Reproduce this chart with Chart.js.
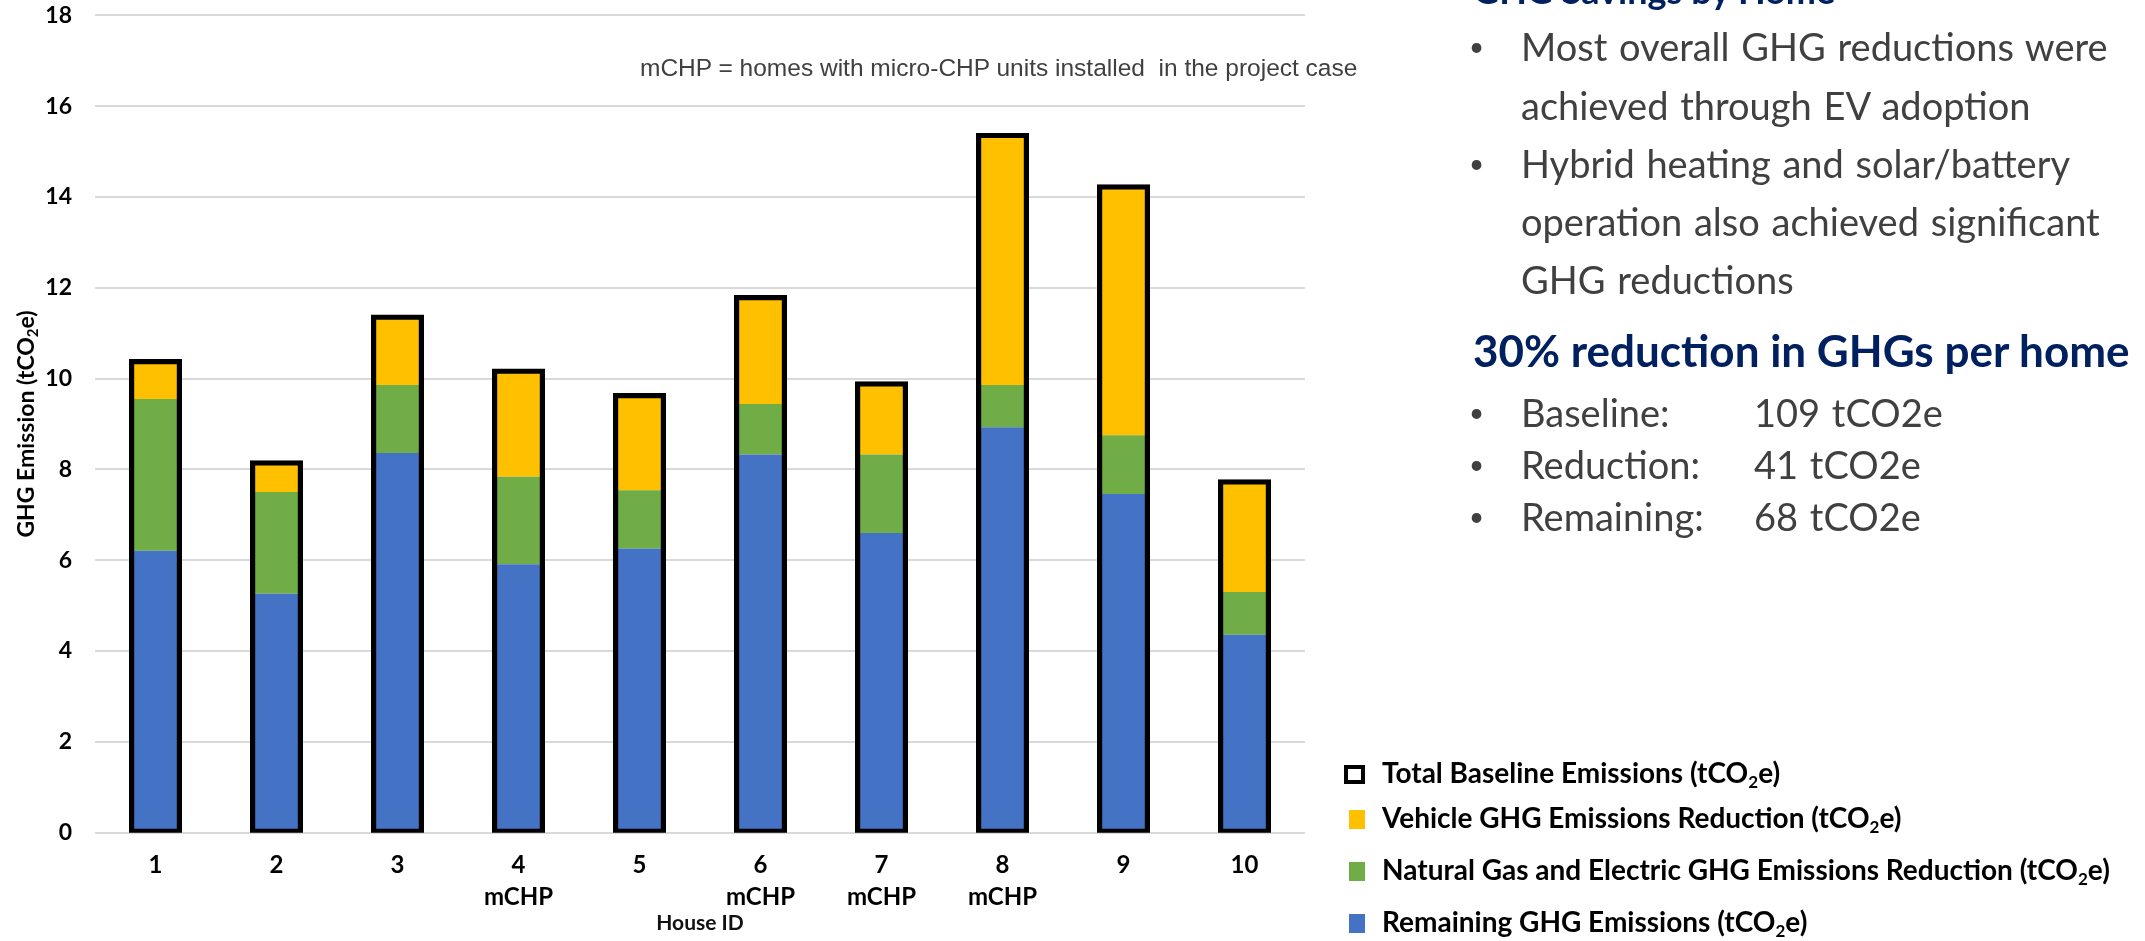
<!DOCTYPE html>
<html>
<head>
<meta charset="utf-8">
<title>GHG Savings by Home</title>
<script src="https://cdn.jsdelivr.net/npm/chart.js@4.4.0/dist/chart.umd.min.js"></script>
<style>
  html, body { margin: 0; padding: 0; background: #fff; width: 2145px; height: 941px; overflow: hidden; }
  #wrap { position: relative; width: 2145px; height: 941px; }
  #chart { position: absolute; left: 0; top: 0; }
  .txt { position: absolute; white-space: pre; line-height: 1.2; }
  .note { font-family: "Liberation Sans", Arial, sans-serif; font-size: 24.5px; color: #404040; }
  .body { font-family: Lato, "Open Sans", sans-serif; font-size: 38px; color: #404040; word-spacing: 2px; }
  .head { font-family: Lato, "Open Sans", sans-serif; font-size: 44px; font-weight: bold; color: #002060; }
  .head.small { font-size: 36px; }
  .dot { font-family: Lato, sans-serif; font-size: 26px; color: #404040; }
  .leg { font-family: Lato, "Open Sans", sans-serif; font-size: 28px; font-weight: bold; color: #000; }
  .leg sub { font-size: 17px; vertical-align: -5px; line-height: 0; }
  .mk { position: absolute; box-sizing: border-box; }
</style>
</head>
<body>
<div id="wrap">
  <canvas id="chart" width="2145" height="941"></canvas>
  <div id="overlay"></div>
</div>
<script>
// House IDs along the x axis and the homes fitted with micro-CHP units
const houseIds = ['1', '2', '3', '4', '5', '6', '7', '8', '9', '10'];
const mchpHouses = ['4', '6', '7', '8'];

// Emissions per home, tCO2e
const remainingEmissions = [6.21, 5.26, 8.36, 5.91, 6.26, 8.33, 6.60, 8.93, 7.46, 4.36];
const gasElecReduction   = [3.34, 2.24, 1.50, 1.93, 1.28, 1.11, 1.73, 0.93, 1.29, 0.94];
const vehicleReduction   = [0.83, 0.65, 1.50, 2.33, 2.09, 2.35, 1.56, 5.50, 5.48, 2.43];
const baselineTotal      = [10.38, 8.15, 11.36, 10.17, 9.63, 11.79, 9.89, 15.36, 14.23, 7.73];

// Value axis
const yMin = 0, yMax = 18, yStep = 2;

// Series names
const seriesNames = {
  total: 'Total Baseline Emissions',
  vehicle: 'Vehicle GHG Emissions Reduction',
  gas: 'Natural Gas and Electric GHG Emissions Reduction',
  remaining: 'Remaining GHG Emissions'
};
const unitMain = 'tCO', unitSub = '2', unitEnd = 'e';

const colors = { remaining: '#4472C4', gas: '#70AD47', vehicle: '#FFC000', total: '#000000' };

// Right-hand summary text
const summaryHeading = 'GHG Savings by Home';
const summaryLines = [
  { bullet: true,  text: 'Most overall GHG reductions were' },
  { bullet: false, text: 'achieved through EV adoption' },
  { bullet: true,  text: 'Hybrid heating and solar/battery' },
  { bullet: false, text: 'operation also achieved significant' },
  { bullet: false, text: 'GHG reductions' }
];
const reductionHeading = '30% reduction in GHGs per home';
const totalsRows = [
  ['Baseline:', '109 tCO2e'],
  ['Reduction:', '41 tCO2e'],
  ['Remaining:', '68 tCO2e']
];
const noteText = 'mCHP = homes with micro-CHP units installed  in the project case';

const xLabels = houseIds.map(id => mchpHouses.includes(id) ? [id, 'mCHP'] : id);

// Rotated value-axis title with a subscript
const yTitlePlugin = {
  id: 'yTitle',
  afterDraw(chart) {
    const { ctx, chartArea } = chart;
    const cy = (chartArea.top + chartArea.bottom) / 2;
    ctx.save();
    ctx.translate(27, cy);
    ctx.rotate(-Math.PI / 2);
    ctx.fillStyle = '#000';
    ctx.textBaseline = 'middle';
    const main = 'bold 23px Lato';
    const sub = 'bold 15px Lato';
    const parts = [['GHG Emission (' + unitMain, main, 0], [unitSub, sub, 6], [unitEnd + ')', main, 0]];
    let w = 0;
    parts.forEach(p => { ctx.font = p[1]; w += ctx.measureText(p[0]).width; });
    let x = -w / 2;
    parts.forEach(p => { ctx.font = p[1]; ctx.fillText(p[0], x, p[2]); x += ctx.measureText(p[0]).width; });
    ctx.restore();
  }
};

function barSet(label, data, color, stack, extra) {
  return Object.assign({
    label, data, stack,
    backgroundColor: color,
    borderWidth: 0,
    grouped: false,
    categoryPercentage: 1,
    barPercentage: 0.4,
    order: 1
  }, extra || {});
}

function build() {
  const ctx = document.getElementById('chart').getContext('2d');
  new Chart(ctx, {
    type: 'bar',
    data: {
      labels: xLabels,
      datasets: [
        barSet(seriesNames.total, baselineTotal, 'rgba(0,0,0,0)', 'total', {
          borderColor: colors.total, borderWidth: 0.6, inflateAmount: 2.3,
          borderSkipped: false, order: 0, clip: 0
        }),
        barSet(seriesNames.remaining, remainingEmissions, colors.remaining, 'parts'),
        barSet(seriesNames.gas, gasElecReduction, colors.gas, 'parts'),
        barSet(seriesNames.vehicle, vehicleReduction, colors.vehicle, 'parts')
      ]
    },
    options: {
      responsive: false,
      animation: false,
      devicePixelRatio: 1,
      layout: { padding: { left: 0, top: 15.3, right: 840, bottom: 0 } },
      plugins: { legend: { display: false }, tooltip: { enabled: false } },
      scales: {
        x: {
          stacked: true,
          grid: { display: false },
          border: { display: false },
          ticks: {
            color: '#000', autoSkip: false, maxRotation: 0, padding: 8,
            font: { family: 'Lato', weight: 'bold', size: 24, lineHeight: 1.34 }
          },
          title: {
            display: true, text: 'House ID', color: '#111',
            font: { family: 'Lato', weight: 'bold', size: 21, lineHeight: 1.2 },
            padding: { top: 0, bottom: 5 }
          },
          afterFit: s => { s.height = 108.3; s.paddingLeft = 0; s.paddingRight = 0; }
        },
        y: {
          stacked: true,
          min: yMin, max: yMax,
          grid: { color: '#D9D9D9', lineWidth: 2, drawTicks: false },
          border: { display: false },
          ticks: {
            stepSize: yStep, color: '#000', padding: 23,
            font: { family: 'Lato', weight: 'bold', size: 23 }
          },
          afterFit: s => { s.width = 95; s.paddingTop = 0; s.paddingBottom = 0; }
        }
      }
    },
    plugins: [yTitlePlugin]
  });
}

// Overlay text: note, summary panel and legend
function addText(cls, text, left, baseline, size, html) {
  const d = document.createElement('div');
  d.className = 'txt ' + cls;
  if (html) d.innerHTML = text; else d.textContent = text;
  const asc = cls === 'note' ? 0.9465 : 0.987;
  d.style.left = left + 'px';
  d.style.top = (baseline - asc * size) + 'px';
  document.getElementById('overlay').appendChild(d);
  return d;
}

function buildOverlay() {
  addText('note', noteText, 640, 76, 24.5);

  addText('head small', summaryHeading, 1473, 5, 36);
  summaryLines.forEach((ln, i) => {
    const base = 62 + 58.1 * i;
    if (ln.bullet) addText('dot', '\u2022', 1469, base - 5, 26);
    addText('body', ln.text, 1521, base, 38);
  });
  addText('head', reductionHeading, 1473, 367, 44);
  totalsRows.forEach((row, i) => {
    const base = 428 + 52 * i;
    addText('dot', '\u2022', 1469, base - 5, 26);
    addText('body', row[0], 1521, base, 38);
    addText('body', row[1], 1754, base, 38);
  });

  const unit = '(' + unitMain + '<sub>' + unitSub + '</sub>' + unitEnd + ')';
  const legendItems = [
    { name: seriesNames.total, y: 774, fill: '#fff', border: '4px solid #000', w: 21 },
    { name: seriesNames.vehicle, y: 819, fill: colors.vehicle, border: 'none', w: 16 },
    { name: seriesNames.gas, y: 871, fill: colors.gas, border: 'none', w: 16 },
    { name: seriesNames.remaining, y: 923, fill: colors.remaining, border: 'none', w: 16 }
  ];
  const ov = document.getElementById('overlay');
  legendItems.forEach(it => {
    const m = document.createElement('div');
    m.className = 'mk';
    m.style.left = (1365 - it.w) + 'px';
    m.style.top = (it.y - 9) + 'px';
    m.style.width = it.w + 'px';
    m.style.height = '19px';
    m.style.background = it.fill;
    m.style.border = it.border;
    ov.appendChild(m);
    addText('leg', it.name + ' ' + unit, 1382, it.y + 10, 28, true);
  });
}

buildOverlay();
Promise.all([
  document.fonts.load('bold 24px Lato'),
  document.fonts.load('22px Lato')
]).catch(() => {}).then(build);
</script>
</body>
</html>
